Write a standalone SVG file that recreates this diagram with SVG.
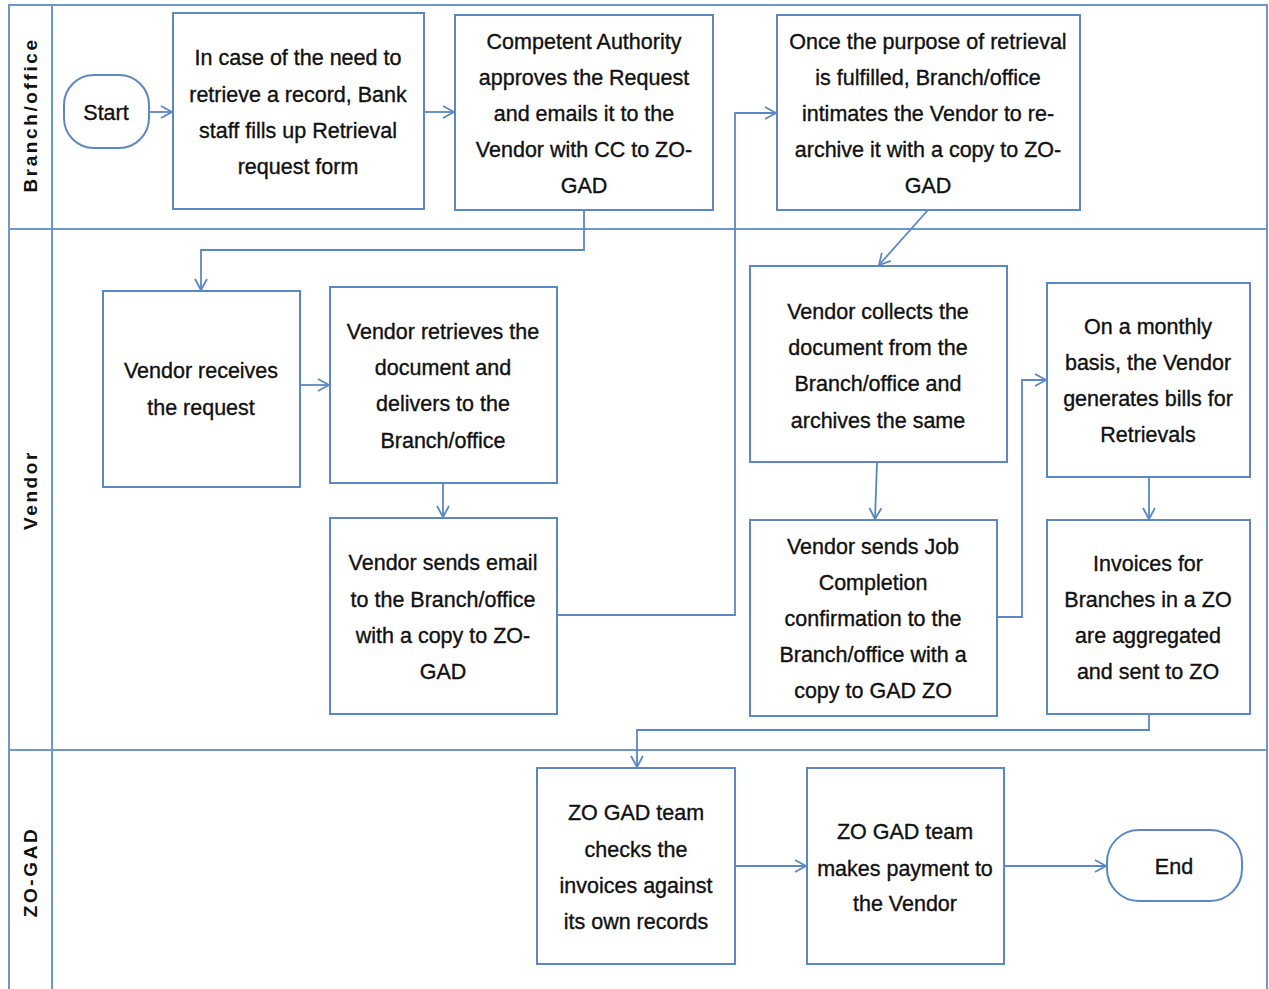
<svg xmlns="http://www.w3.org/2000/svg" width="1269" height="989" viewBox="0 0 1269 989">
<style>
.lane{fill:none;stroke:#6f97cf;stroke-width:2}
.box{fill:#fff;stroke:#5b87c5;stroke-width:2}
.t{font-family:"Liberation Sans",Arial,sans-serif;font-size:21.5px;fill:#111;stroke:#111;stroke-width:0.35;text-anchor:middle}
.lbl{font-family:"Liberation Sans",Arial,sans-serif;font-size:19px;font-weight:bold;fill:#111;text-anchor:middle;letter-spacing:2.6px}
.c{fill:none;stroke:#5b87c5;stroke-width:1.8;marker-end:url(#ah)}
</style>
<defs>
<marker id="ah" markerWidth="14" markerHeight="14" refX="12" refY="7" orient="auto" markerUnits="userSpaceOnUse">
<path d="M1,1 L12,7 L1,13" fill="none" stroke="#5b87c5" stroke-width="1.8"/>
</marker>
</defs>
<rect width="1269" height="989" fill="#fff"/>
<g id="lanes">
<rect class="lane" x="9" y="5" width="1258" height="990"/>
<line class="lane" x1="52" y1="5" x2="52" y2="989"/>
<line class="lane" x1="9" y1="229" x2="1267" y2="229"/>
<line class="lane" x1="9" y1="750" x2="1267" y2="750"/>
<text class="lbl" transform="translate(37,115) rotate(-90)">Branch/office</text>
<text class="lbl" transform="translate(37,490) rotate(-90)">Vendor</text>
<text class="lbl" transform="translate(37,872) rotate(-90)">ZO-GAD</text>
</g>
<g id="connectors">
<path class="c" d="M149,112 H172"/>
<path class="c" d="M424,112 H454"/>
<path class="c" d="M584,210 V250 H201 V290"/>
<path class="c" d="M300,385 H329"/>
<path class="c" d="M443,483 V517"/>
<path class="c" d="M557,615 H735 V113 H776"/>
<path class="c" d="M928,210 L879,265"/>
<path class="c" d="M877,462 L875,519"/>
<path class="c" d="M997,617 H1022 V380 H1046"/>
<path class="c" d="M1149,477 V519"/>
<path class="c" d="M1149,714 V730 H637 V767"/>
<path class="c" d="M735,866 H806"/>
<path class="c" d="M1004,866 H1106"/>
</g>
<g id="start">
<rect class="box" x="64" y="75" width="85" height="73" rx="30"/>
<text class="t" x="106" y="120">Start</text>
</g>
<g id="n1">
<rect class="box" x="173" y="13" width="251" height="196"/>
<text class="t" x="298" y="65">In case of the need to</text>
<text class="t" x="298" y="102">retrieve a record, Bank</text>
<text class="t" x="298" y="138">staff fills up Retrieval</text>
<text class="t" x="298" y="174">request form</text>
</g>
<g id="n2">
<rect class="box" x="455" y="15" width="258" height="195"/>
<text class="t" x="584" y="49">Competent Authority</text>
<text class="t" x="584" y="85">approves the Request</text>
<text class="t" x="584" y="121">and emails it to the</text>
<text class="t" x="584" y="157">Vendor with CC to ZO-</text>
<text class="t" x="584" y="193">GAD</text>
</g>
<g id="n3">
<rect class="box" x="777" y="15" width="303" height="195"/>
<text class="t" x="928" y="49">Once the purpose of retrieval</text>
<text class="t" x="928" y="85">is fulfilled, Branch/office</text>
<text class="t" x="928" y="121">intimates the Vendor to re-</text>
<text class="t" x="928" y="157">archive it with a copy to ZO-</text>
<text class="t" x="928" y="193">GAD</text>
</g>
<g id="n4">
<rect class="box" x="103" y="291" width="197" height="196"/>
<text class="t" x="201" y="378">Vendor receives</text>
<text class="t" x="201" y="415">the request</text>
</g>
<g id="n5">
<rect class="box" x="330" y="287" width="227" height="196"/>
<text class="t" x="443" y="339">Vendor retrieves the</text>
<text class="t" x="443" y="375">document and</text>
<text class="t" x="443" y="411">delivers to the</text>
<text class="t" x="443" y="448">Branch/office</text>
</g>
<g id="n6">
<rect class="box" x="330" y="518" width="227" height="196"/>
<text class="t" x="443" y="570">Vendor sends email</text>
<text class="t" x="443" y="607">to the Branch/office</text>
<text class="t" x="443" y="643">with a copy to ZO-</text>
<text class="t" x="443" y="679">GAD</text>
</g>
<g id="n7">
<rect class="box" x="750" y="266" width="257" height="196"/>
<text class="t" x="878" y="319">Vendor collects the</text>
<text class="t" x="878" y="355">document from the</text>
<text class="t" x="878" y="391">Branch/office and</text>
<text class="t" x="878" y="428">archives the same</text>
</g>
<g id="n8">
<rect class="box" x="1047" y="283" width="203" height="194"/>
<text class="t" x="1148" y="334">On a monthly</text>
<text class="t" x="1148" y="370">basis, the Vendor</text>
<text class="t" x="1148" y="406">generates bills for</text>
<text class="t" x="1148" y="442">Retrievals</text>
</g>
<g id="n9">
<rect class="box" x="750" y="520" width="247" height="196"/>
<text class="t" x="873" y="554">Vendor sends Job</text>
<text class="t" x="873" y="590">Completion</text>
<text class="t" x="873" y="626">confirmation to the</text>
<text class="t" x="873" y="662">Branch/office with a</text>
<text class="t" x="873" y="698">copy to GAD ZO</text>
</g>
<g id="n10">
<rect class="box" x="1047" y="520" width="203" height="194"/>
<text class="t" x="1148" y="571">Invoices for</text>
<text class="t" x="1148" y="607">Branches in a ZO</text>
<text class="t" x="1148" y="643">are aggregated</text>
<text class="t" x="1148" y="679">and sent to ZO</text>
</g>
<g id="n11">
<rect class="box" x="537" y="768" width="198" height="196"/>
<text class="t" x="636" y="820">ZO GAD team</text>
<text class="t" x="636" y="857">checks the</text>
<text class="t" x="636" y="893">invoices against</text>
<text class="t" x="636" y="929">its own records</text>
</g>
<g id="n12">
<rect class="box" x="807" y="768" width="197" height="196"/>
<text class="t" x="905" y="839">ZO GAD team</text>
<text class="t" x="905" y="876">makes payment to</text>
<text class="t" x="905" y="911">the Vendor</text>
</g>
<g id="end">
<rect class="box" x="1107" y="830" width="135" height="71" rx="32"/>
<text class="t" x="1174" y="874">End</text>
</g>
</svg>
